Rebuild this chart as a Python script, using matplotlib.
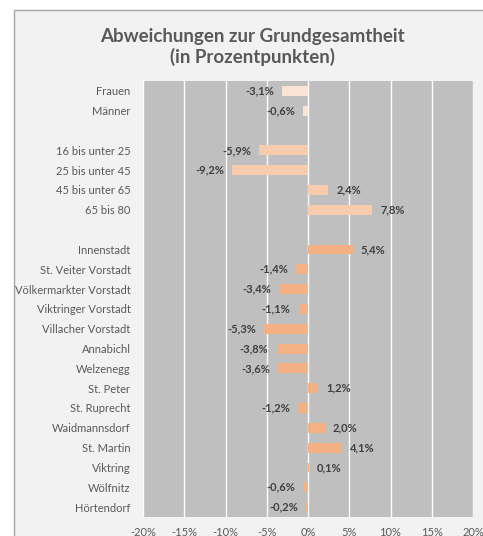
"""Abweichungen zur Grundgesamtheit - horizontal bar chart (Excel look)."""

import matplotlib

matplotlib.use("Agg")
import matplotlib.pyplot as plt
from matplotlib.patches import Rectangle
from matplotlib.ticker import FuncFormatter

# --- data -------------------------------------------------------------------
# empty strings are the gaps between the three groups
categories = [
    "Frauen", "Männer", "",
    "16 bis unter 25", "25 bis unter 45", "45 bis unter 65", "65 bis 80", "",
    "Innenstadt", "St. Veiter Vorstadt", "Völkermarkter Vorstadt",
    "Viktringer Vorstadt", "Villacher Vorstadt", "Annabichl", "Welzenegg",
    "St. Peter", "St. Ruprecht", "Waidmannsdorf", "St. Martin", "Viktring",
    "Wölfnitz", "Hörtendorf",
]
values = [
    -3.1, -0.6, None,
    -5.9, -9.2, 2.4, 7.8, None,
    5.4, -1.4, -3.4, -1.1, -5.3, -3.8, -3.6, 1.2, -1.2, 2.0, 4.1, 0.1,
    -0.6, -0.2,
]
groups = [
    "sex", "sex", None,
    "age", "age", "age", "age", None,
] + ["district"] * 14
x_ticks = [-20, -15, -10, -5, 0, 5, 10, 15, 20]

GROUP_COLORS = {"sex": "#fbe4d5", "age": "#f8cbad", "district": "#f4b183"}
TEXT = "#595959"
LABEL = "#404040"

W, H = 483, 536
plt.rcParams["font.family"] = ["Lato", "DejaVu Sans"]

fig = plt.figure(figsize=(W / 100, H / 100), dpi=100, facecolor="white")

# chart area (light grey, runs off the right/bottom edge like the screenshot)
fig.patches.append(
    Rectangle((14 / W, -0.1), 1.2, 1 - 10 / H + 0.1, transform=fig.transFigure,
              facecolor="#f2f2f2", edgecolor="#a6a6a6", linewidth=1.0, zorder=-5)
)

ax = fig.add_axes([143 / W, 1 - 517 / H, 330 / W, 436 / H])
ax.set_facecolor("#bfbfbf")

ypos = list(range(len(categories)))
for y, v, g in zip(ypos, values, groups):
    if v is None:
        continue
    ax.barh(y, v, height=0.5, color=GROUP_COLORS[g], zorder=3)
    txt = f"{v:.1f}".replace(".", ",") + "%"
    off = 6 if v >= 0 else -6
    ax.annotate(txt, (v, y), xytext=(off, 0), textcoords="offset points",
                ha="left" if v >= 0 else "right", va="center",
                fontsize=8, fontweight="bold", color=LABEL, zorder=4)

ax.set_xlim(-20, 20)
ax.set_ylim(len(categories) - 0.5, -0.5)
ax.set_xticks(x_ticks)
ax.xaxis.set_major_formatter(FuncFormatter(lambda v, _: f"{v:.0f}%"))
ax.set_yticks(ypos)
ax.set_yticklabels(categories)
ax.grid(axis="x", color="white", linewidth=1.0, zorder=1)
ax.set_axisbelow(True)
for s in ax.spines.values():
    s.set_visible(False)
ax.tick_params(axis="both", length=0, colors=TEXT, labelsize=8)
ax.tick_params(axis="y", pad=9)
ax.tick_params(axis="x", pad=7)

fig.text(252 / W, 1 - 47 / H, "Abweichungen zur Grundgesamtheit\n(in Prozentpunkten)",
         ha="center", va="center", fontsize=13.5, fontweight="bold", color=TEXT,
         linespacing=1.2)

fig.savefig("out.png", dpi=100, facecolor="white")
